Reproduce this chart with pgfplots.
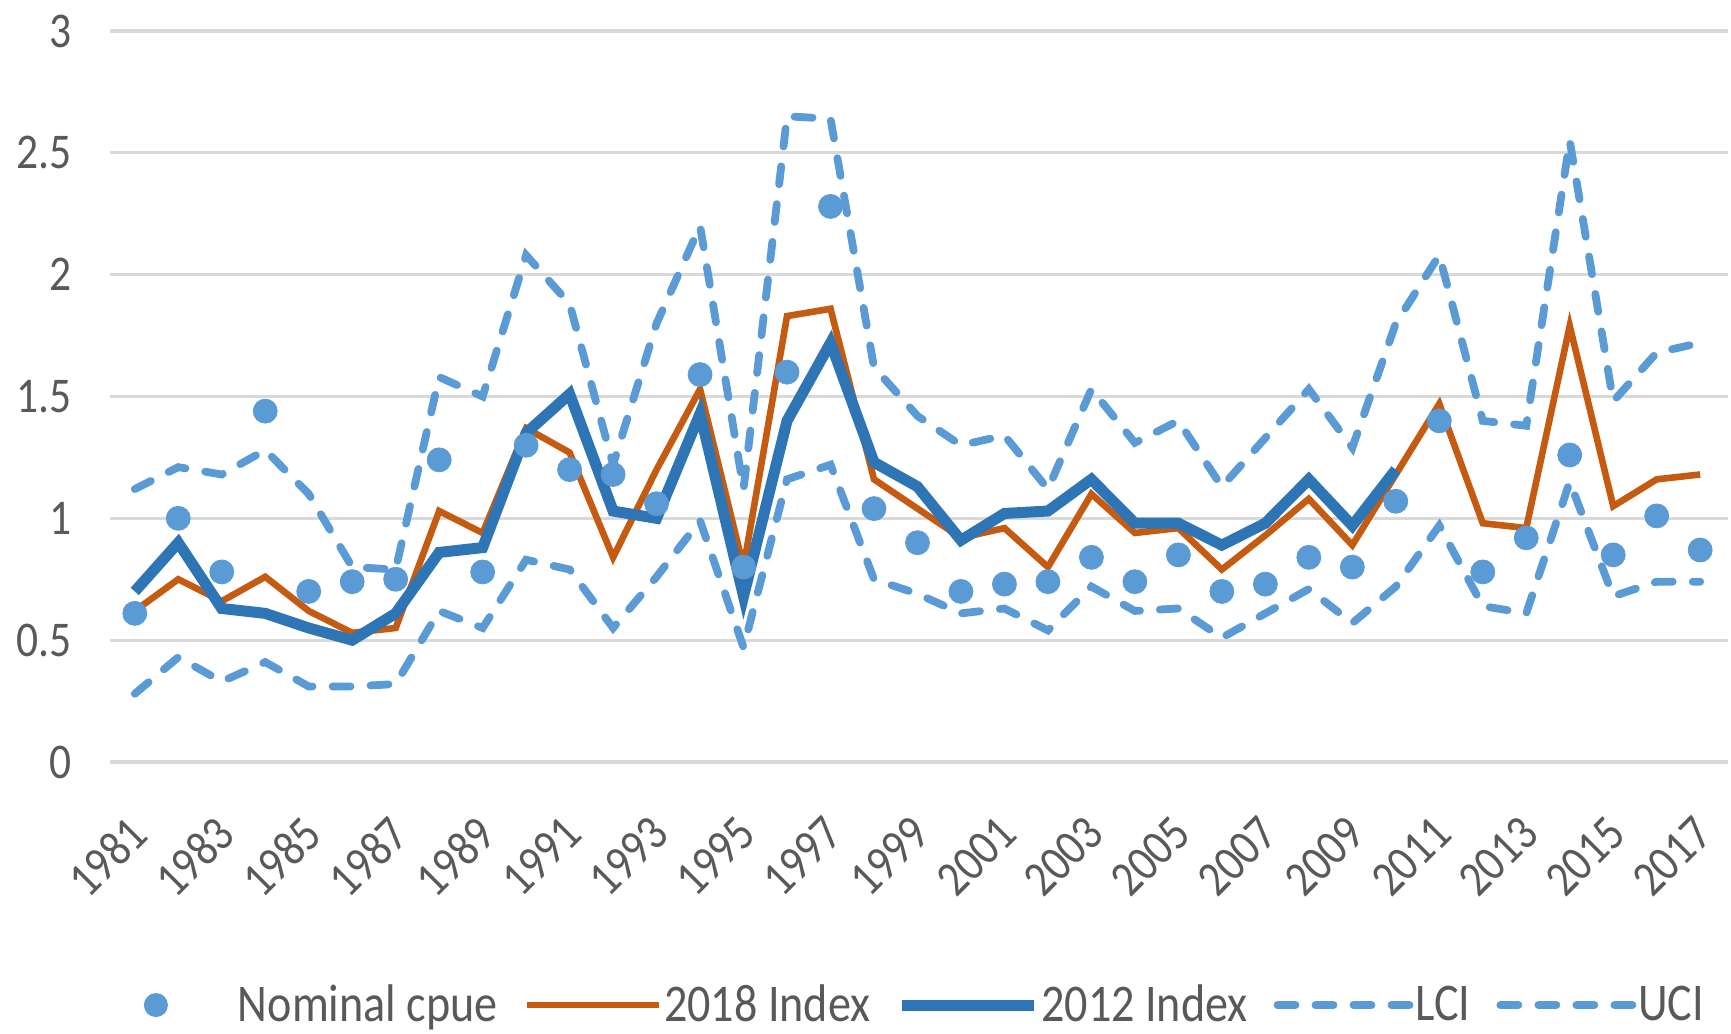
\documentclass[border=0pt]{standalone}
\usepackage{fontspec}
\setmainfont{Carlito}[FakeStretch=0.87]
\usepackage{pgfplots}
\pgfplotsset{compat=1.18}
\usepackage{pgfplotstable}
\definecolor{txtgray}{HTML}{595959}
\definecolor{gridgray}{HTML}{D9D9D9}
\definecolor{orng}{HTML}{C55A11}
\definecolor{dblue}{HTML}{2E75B6}
\definecolor{lblue}{HTML}{5B9BD5}
\pgfplotsset{longleg/.style={legend image code/.code={\draw[##1] (0pt,0pt) -- (66pt,0pt);}},
  dotleg/.style={legend image code/.code={\path[draw=none] (0pt,0pt) -- (66pt,0pt); \fill[lblue, draw=none] (33pt,0pt) circle (6pt);}}}
\pgfplotstableread{
year nom i18 uci lci
1981 0.61 0.62 1.12 0.28
1982 1.00 0.75 1.21 0.43
1983 0.78 0.66 1.18 0.33
1984 1.44 0.76 1.28 0.41
1985 0.70 0.62 1.10 0.31
1986 0.74 0.53 0.80 0.31
1987 0.75 0.55 0.79 0.32
1988 1.24 1.03 1.58 0.62
1989 0.78 0.94 1.50 0.55
1990 1.30 1.37 2.08 0.83
1991 1.20 1.27 1.88 0.79
1992 1.18 0.84 1.22 0.55
1993 1.06 1.20 1.80 0.76
1994 1.59 1.53 2.20 0.99
1995 0.80 0.80 1.12 0.47
1996 1.60 1.83 2.65 1.16
1997 2.28 1.86 2.64 1.22
1998 1.04 1.16 1.62 0.75
1999 0.90 1.04 1.42 0.69
2000 0.70 0.92 1.30 0.61
2001 0.73 0.96 1.34 0.63
2002 0.74 0.80 1.12 0.54
2003 0.84 1.10 1.53 0.72
2004 0.74 0.94 1.31 0.62
2005 0.85 0.96 1.40 0.63
2006 0.70 0.79 1.13 0.51
2007 0.73 0.93 1.33 0.61
2008 0.84 1.08 1.53 0.71
2009 0.80 0.89 1.29 0.57
2010 1.07 1.18 1.80 0.72
2011 1.40 1.47 2.08 0.97
2012 0.78 0.98 1.40 0.64
2013 0.92 0.96 1.38 0.61
2014 1.26 1.79 2.55 1.15
2015 0.85 1.05 1.48 0.68
2016 1.01 1.16 1.68 0.74
2017 0.87 1.18 1.72 0.74
}\main
\pgfplotstableread{
year i12
1981 0.70
1982 0.90
1983 0.63
1984 0.61
1985 0.55
1986 0.50
1987 0.61
1988 0.86
1989 0.88
1990 1.35
1991 1.51
1992 1.03
1993 1.00
1994 1.43
1995 0.68
1996 1.40
1997 1.72
1998 1.23
1999 1.13
2000 0.91
2001 1.02
2002 1.03
2003 1.16
2004 0.98
2005 0.98
2006 0.89
2007 0.98
2008 1.16
2009 0.97
2010 1.20
}\old
\begin{document}
\begin{tikzpicture}
\begin{axis}[
  name=ax,
  scale only axis,
  width=809pt, height=365.5pt,
  xmin=1980.43, xmax=2017.64,
  ymin=0, ymax=3,
  ytick={0,0.5,...,3},
  xtick={1981,1983,...,2017},
  ymajorgrids,
  major grid style={gridgray, line width=1.6pt},
  axis line style={draw=none},
  tick style={draw=none},
  font=\fontsize{25}{29}\selectfont\color{txtgray},
  /pgf/number format/assume math mode=true,
  /pgf/number format/set thousands separator={},
  yticklabel style={anchor=east, inner sep=0pt, xshift=-19pt, /pgf/number format/fixed},
  xticklabel style={rotate=45, anchor=north east, inner sep=0pt, xshift=-21pt, yshift=-15pt},
  legend columns=5,
  legend style={at={(0.5,-0.3325)}, xshift=-10.5pt, anchor=center, draw=none, fill=none,
    font=\fontsize{26.5}{30}\selectfont\color{txtgray},
    nodes={inner sep=1pt},
    /tikz/every odd column/.append style={column sep=0pt},
    /tikz/every even column/.append style={column sep=12pt}},
  legend cell align=left,
]
\addplot[only marks, mark=*, mark size=6pt, color=lblue, mark options={draw=lblue, fill=lblue}, dotleg] table[x=year, y=nom] {\main};
\addlegendentry{\hspace{7pt}Nominal cpue}
\addplot[orng, line width=3.3pt, mark=none, longleg] table[x=year, y=i18] {\main};
\addlegendentry{2018 Index}
\addplot[dblue, line width=5.5pt, mark=none, longleg] table[x=year, y=i12] {\old};
\addlegendentry{2012 Index}
\addplot[lblue, line width=3.9pt, mark=none, line cap=round, dash pattern=on 9pt off 10pt, longleg] table[x=year, y=lci] {\main};
\addlegendentry{LCI}
\addplot[lblue, line width=3.9pt, mark=none, line cap=round, dash pattern=on 9pt off 10pt, longleg] table[x=year, y=uci] {\main};
\addlegendentry{UCI}
\end{axis}
\pgfresetboundingbox
\path ([shift={(-55pt,-136pt)}]ax.south west) rectangle ([shift={(1.5pt,15.5pt)}]ax.north east);
\end{tikzpicture}
\end{document}
